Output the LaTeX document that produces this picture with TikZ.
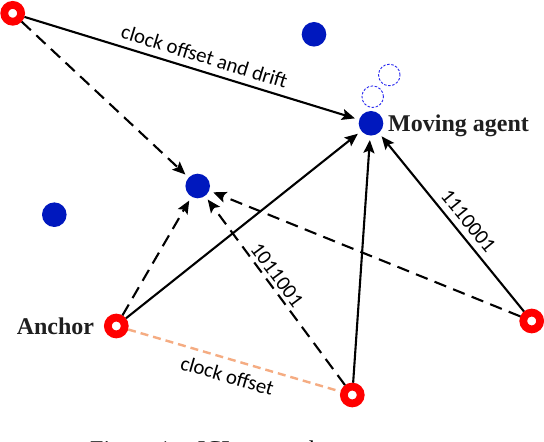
\documentclass[tikz,border=0pt]{standalone}
\usepackage{fontspec}
\setmainfont{Liberation Serif}
\newfontfamily\lblfont{Carlito}
\usetikzlibrary{arrows.meta}
\definecolor{dotblue}{RGB}{0,24,190}
\definecolor{ringred}{RGB}{255,0,0}
\definecolor{ghostblue}{RGB}{40,40,240}
\definecolor{offsetorange}{RGB}{245,172,130}
\tikzset{
  anchorring/.style={circle, draw=ringred, fill=white, line width=7.8pt, minimum size=16.8pt, inner sep=0pt},
  agentdot/.style={circle, fill=dotblue, minimum size=24.6pt, inner sep=0pt, outer sep=0pt},
  ghostdot/.style={circle, draw=ghostblue, line width=0.9pt, dash pattern=on 2.5pt off 1.6pt, minimum size=21.5pt, inner sep=0pt},
  solidarrow/.style={line width=2.1pt, -{Stealth[length=13pt,width=11pt,inset=2.5pt]}, shorten >=4.5pt},
  dasharrow/.style={line width=2.1pt, dash pattern=on 12.5pt off 7.5pt, -{Stealth[length=13pt,width=11pt,inset=2.5pt]}, shorten >=4.5pt},
  offsetline/.style={line width=2.4pt, draw=offsetorange, dash pattern=on 8pt off 5pt},
  edgelabel/.style={font=\lblfont\fontsize{20.8}{24}\selectfont, inner sep=0pt},
  boldlabel/.style={font=\bfseries\fontsize{24}{28}\selectfont, text=black!88, inner sep=0pt},
  captiontext/.style={font=\fontsize{24}{28}\selectfont, inner sep=0pt}
}
\begin{document}
\begin{tikzpicture}[x=1pt,y=1pt]
\useasboundingbox (0,0) rectangle (544,442);
\clip (0,0) rectangle (544,442);
\fill[white] (0,0) rectangle (544,442);

% anchors
\node[anchorring] (A1) at (12.7,428.7) {};
\node[anchorring] (A2) at (116.3,116) {};
\node[anchorring] (A3) at (352.3,47) {};
\node[anchorring] (A4) at (531.7,121) {};

% agents
\node[agentdot] (B1) at (314,407.7) {};
\node[agentdot] (M) at (371,318.7) {};
\node[agentdot] (B3) at (197.7,256) {};
\node[agentdot] (B4) at (54.3,227.3) {};
\node[ghostdot] (D1) at (389.3,367) {};
\node[ghostdot] (D2) at (372.7,345.3) {};

% connectors
\draw[offsetline] (A2) -- (A3);
\draw[dasharrow] (A1) -- (B3);
\draw[dasharrow] (A2) -- (B3);
\draw[dasharrow] (A3) -- (B3);
\draw[dasharrow] (A4) -- (B3);
\draw[solidarrow] (A1) -- (M);
\draw[solidarrow] (A2) -- (M);
\draw[solidarrow] (A3) -- (M);
\draw[solidarrow] (A4) -- (M);

% labels
\node[edgelabel, anchor=base, rotate=-17.1] (lcod) at (202.5,378.7) {clock offset and drift};
\node[edgelabel, anchor=base, rotate=-16.3] (lco) at (225.3,59.5) {clock offset};
\node[edgelabel, anchor=center, rotate=-53.5] (l1011) at (277,167) {1011001};
\node[edgelabel, anchor=center, rotate=-50.9] (l1110) at (468.3,221) {1110001};
\node[boldlabel, anchor=base west] (lmov) at (388,310.3) {Moving agent};
\node[boldlabel, anchor=base east] (lanc) at (94.3,107.7) {Anchor};

% caption (cut off at the bottom edge)
\node[captiontext, anchor=north west] (cap) at (90,1.5) {Figure 1:\hspace{20pt}ICL network structure};
\end{tikzpicture}
\end{document}
